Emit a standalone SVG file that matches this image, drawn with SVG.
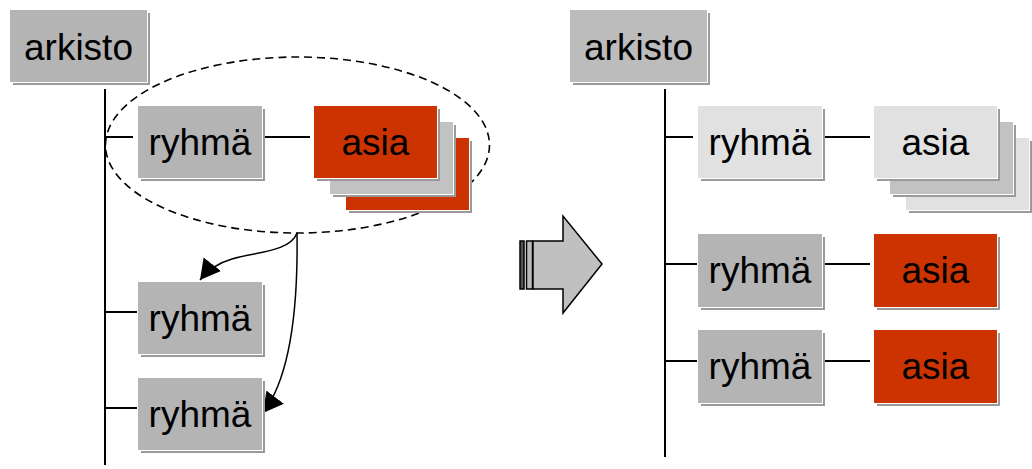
<svg xmlns="http://www.w3.org/2000/svg" width="1032" height="469" viewBox="0 0 1032 469">
<style>
.sh{fill:#9a9a9a}
.gap{fill:#ffffff}
.gray{fill:#b4b4b4}
.gray2{fill:#bcbcbc}
.red{fill:#cc3300}
.mid{fill:#c2c2c2}
.light{fill:url(#tex)}
.t{font-family:"Liberation Sans",Arial,sans-serif;font-size:37px;fill:#000;text-anchor:middle}
.ln{stroke:#000;stroke-width:2;fill:none}
.cv{stroke:#000;stroke-width:1.5;fill:none}
</style>
<defs>
<pattern id="tex" width="2" height="2" patternUnits="userSpaceOnUse">
<rect width="2" height="2" fill="#e6e6e6"/>
<rect width="1" height="1" fill="#dcdcdc"/>
<rect x="1" y="1" width="1" height="1" fill="#dcdcdc"/>
</pattern>
<marker id="ah" markerUnits="userSpaceOnUse" markerWidth="24" markerHeight="24" refX="20" refY="11" orient="auto" viewBox="0 0 24 24">
<path d="M0,0 L20,11 L0,22 z" fill="#000"/>
</marker>
</defs>

<g id="connectors">
<line class="ln" x1="105" y1="89" x2="105" y2="465"/>
<line class="ln" x1="105" y1="137" x2="133" y2="137"/>
<line class="ln" x1="264" y1="137" x2="310" y2="137"/>
<line class="ln" x1="105" y1="312" x2="137" y2="312"/>
<line class="ln" x1="105" y1="408" x2="137" y2="408"/>
<line class="ln" x1="665" y1="89" x2="665" y2="457"/>
<line class="ln" x1="665" y1="137" x2="693" y2="137"/>
<line class="ln" x1="824" y1="137" x2="870" y2="137"/>
<line class="ln" x1="665" y1="264" x2="697" y2="264"/>
<line class="ln" x1="824" y1="264" x2="870" y2="264"/>
<line class="ln" x1="665" y1="361" x2="697" y2="361"/>
<line class="ln" x1="824" y1="361" x2="870" y2="361"/>
<ellipse cx="297.5" cy="145" rx="192" ry="88" fill="none" stroke="#000" stroke-width="1.6" stroke-dasharray="8,5"/>
<path class="cv" d="M297,233 C290,252 255,252 232,259 C218,263 207,271 200,280" marker-end="url(#ah)"/>
<path class="cv" d="M297,233 C298,300 292,375 263,413" marker-end="url(#ah)"/>
</g>

<g id="transform-arrow">
<rect x="520" y="241" width="4" height="48" fill="#555" stroke="#000" stroke-width="1.5"/>
<rect x="526.5" y="241" width="6" height="48" fill="#bbb" stroke="#000" stroke-width="1.5"/>
<path d="M533,241 L563,241 L563,216 L602,264 L563,313 L563,289 L533,289 z" fill="#c0c0c0" stroke="#000" stroke-width="1.5"/>
</g>

<!-- left side -->
<g id="L-arkisto">
<rect class="sh" x="13" y="13" width="137" height="72"/>
<rect class="gap" x="10" y="10" width="138" height="73"/>
<rect class="gray" x="10" y="10" width="137" height="72"/>
<text class="t" x="78.5" y="60">arkisto</text>
</g>
<g id="L-ryhma1">
<rect class="sh" x="141" y="109" width="124" height="72"/>
<rect class="gap" x="138" y="106" width="125" height="73"/>
<rect class="gray" x="138" y="106" width="124" height="72"/>
<text class="t" x="200" y="155">ryhmä</text>
</g>
<g id="L-asia-stack">
<rect class="sh" x="349" y="141" width="123" height="72"/>
<rect class="gap" x="346" y="138" width="124" height="73"/>
<rect class="red" x="346" y="138" width="123" height="72"/>
<rect class="sh" x="333" y="125" width="123" height="72"/>
<rect class="gap" x="330" y="122" width="124" height="73"/>
<rect class="mid" x="330" y="122" width="123" height="72"/>
<rect class="sh" x="317" y="109" width="123" height="72"/>
<rect class="gap" x="314" y="106" width="124" height="73"/>
<rect class="red" x="314" y="106" width="123" height="72"/>
<text class="t" x="375.5" y="155">asia</text>
</g>
<g id="L-ryhma2">
<rect class="sh" x="141" y="285" width="124" height="72"/>
<rect class="gap" x="138" y="282" width="125" height="73"/>
<rect class="gray" x="138" y="282" width="124" height="72"/>
<text class="t" x="200" y="331">ryhmä</text>
</g>
<g id="L-ryhma3">
<rect class="sh" x="141" y="381" width="124" height="72"/>
<rect class="gap" x="138" y="378" width="125" height="73"/>
<rect class="gray" x="138" y="378" width="124" height="72"/>
<text class="t" x="200" y="427">ryhmä</text>
</g>

<!-- right side -->
<g id="R-arkisto">
<rect class="sh" x="573" y="13" width="137" height="72"/>
<rect class="gap" x="570" y="10" width="138" height="73"/>
<rect class="gray2" x="570" y="10" width="137" height="72"/>
<text class="t" x="638.5" y="60">arkisto</text>
</g>
<g id="R-ryhma1">
<rect class="sh" x="701" y="109" width="124" height="72"/>
<rect class="gap" x="698" y="106" width="125" height="73"/>
<rect class="light" x="698" y="106" width="124" height="72"/>
<text class="t" x="760" y="155">ryhmä</text>
</g>
<g id="R-asia-stack">
<rect class="sh" x="909" y="141" width="123" height="72"/>
<rect class="gap" x="906" y="138" width="124" height="73"/>
<rect class="light" x="906" y="138" width="123" height="72"/>
<rect class="sh" x="893" y="125" width="123" height="72"/>
<rect class="gap" x="890" y="122" width="124" height="73"/>
<rect class="mid" x="890" y="122" width="123" height="72"/>
<rect class="sh" x="877" y="109" width="123" height="72"/>
<rect class="gap" x="874" y="106" width="124" height="73"/>
<rect class="light" x="874" y="106" width="123" height="72"/>
<text class="t" x="935.5" y="155">asia</text>
</g>
<g id="R-ryhma2">
<rect class="sh" x="701" y="237" width="124" height="73"/>
<rect class="gap" x="698" y="234" width="125" height="74"/>
<rect class="gray" x="698" y="234" width="124" height="73"/>
<text class="t" x="760" y="283">ryhmä</text>
</g>
<g id="R-asia2">
<rect class="sh" x="877" y="237" width="123" height="73"/>
<rect class="gap" x="874" y="234" width="124" height="74"/>
<rect class="red" x="874" y="234" width="123" height="73"/>
<text class="t" x="935.5" y="283">asia</text>
</g>
<g id="R-ryhma3">
<rect class="sh" x="701" y="333" width="124" height="73"/>
<rect class="gap" x="698" y="330" width="125" height="74"/>
<rect class="gray" x="698" y="330" width="124" height="73"/>
<text class="t" x="760" y="379">ryhmä</text>
</g>
<g id="R-asia3">
<rect class="sh" x="877" y="333" width="123" height="73"/>
<rect class="gap" x="874" y="330" width="124" height="74"/>
<rect class="red" x="874" y="330" width="123" height="73"/>
<text class="t" x="935.5" y="379">asia</text>
</g>
</svg>
